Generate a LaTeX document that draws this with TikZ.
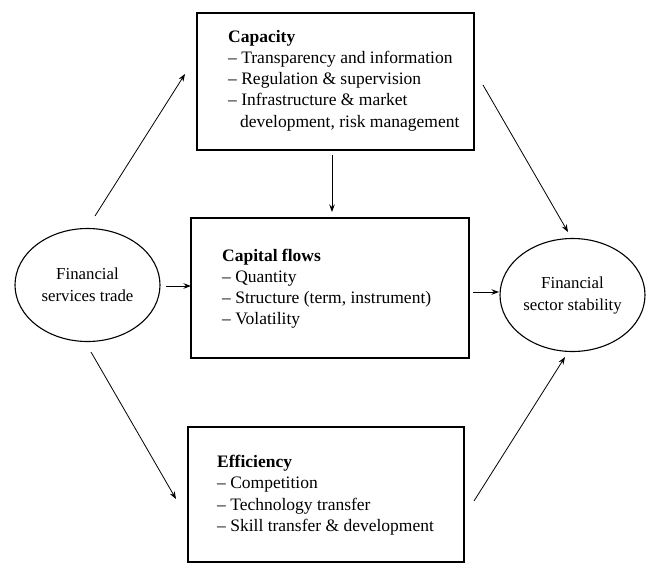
\documentclass[tikz,border=0pt]{standalone}
\usepackage{fontspec}
\setmainfont{Liberation Serif}
\usetikzlibrary{arrows.meta,shapes.geometric}
\begin{document}
\begin{tikzpicture}[x=1pt,y=-1pt,
  box/.style={draw, line width=1.1pt, inner sep=0pt, rectangle},
  oval/.style={draw, line width=1.1pt, ellipse, inner sep=0pt, minimum width=145pt, minimum height=113pt,
    align=center, font=\fontsize{16.8}{22}\selectfont},
  txt/.style={anchor=base west, inner sep=0pt},
  arr/.style={line width=0.8pt, -{Stealth[length=7.5pt,width=5.5pt]}}]
\useasboundingbox (0,0) rectangle (651,565);
% boxes
\node[box, minimum width=277pt, minimum height=137pt] (cap) at (335.5,81.5) {};
\node[box, minimum width=278pt, minimum height=140pt] (flow) at (330,288) {};
\node[box, minimum width=276pt, minimum height=135pt] (eff) at (326,494.5) {};
% ellipses
\node[oval] (fst) at (87.5,285) {Financial\\services trade};
\node[oval] (fss) at (572.5,295) {Financial\\sector stability};
% box texts
\node[txt] (captxt) at (228,42) {\parbox[t]{260pt}{\fontsize{17.5}{21.3}\selectfont
  \textbf{Capacity}\\
  – Transparency and information\\
  – Regulation \& supervision\\
  – Infrastructure \& market\\
  \hspace*{12pt}development, risk management}};
\node[txt] (flowtxt) at (222,261) {\parbox[t]{260pt}{\fontsize{17.5}{21.3}\selectfont
  \textbf{Capital flows}\\
  – Quantity\\
  – Structure (term, instrument)\\
  – Volatility}};
\node[txt] (efftxt) at (217,467) {\parbox[t]{260pt}{\fontsize{17.5}{21.5}\selectfont
  \textbf{Efficiency}\\
  – Competition\\
  – Technology transfer\\
  – Skill transfer \& development}};
% arrow end points
\coordinate (a1s) at (95,216);  \coordinate (a1e) at (185,74);
\coordinate (a2s) at (332,155); \coordinate (a2e) at (332,212);
\coordinate (a3s) at (483,85);  \coordinate (a3e) at (568,232);
\coordinate (a4s) at (166,286); \coordinate (a4e) at (191,286);
\coordinate (a5s) at (473,292); \coordinate (a5e) at (499,292);
\coordinate (a6s) at (91,352);  \coordinate (a6e) at (176,499);
\coordinate (a7s) at (474,501); \coordinate (a7e) at (565,357);
\draw[arr] (a1s) -- (a1e);
\draw[arr] (a2s) -- (a2e);
\draw[arr] (a3s) -- (a3e);
\draw[arr] (a4s) -- (a4e);
\draw[arr] (a5s) -- (a5e);
\draw[arr] (a6s) -- (a6e);
\draw[arr] (a7s) -- (a7e);
\end{tikzpicture}
\end{document}
